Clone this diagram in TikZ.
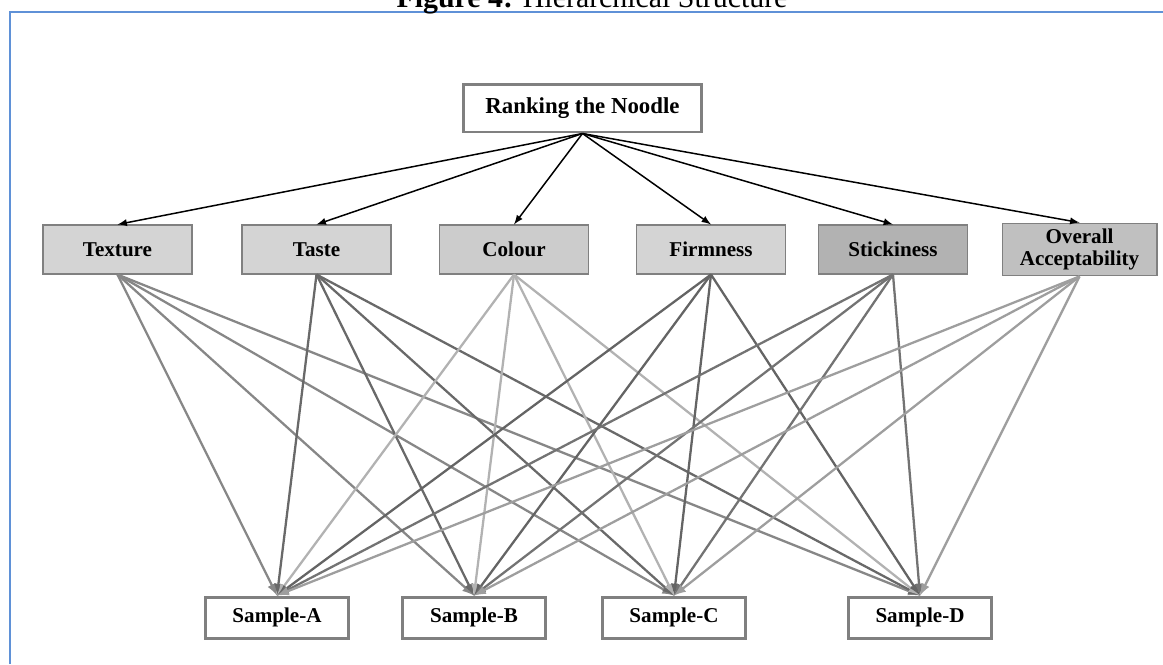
\documentclass[tikz,border=0pt]{standalone}
\usepackage{fontspec}
\setmainfont{Liberation Serif}
\usetikzlibrary{arrows.meta}

\definecolor{framec}{RGB}{95,145,215}
\definecolor{edgec}{RGB}{128,128,128}
\definecolor{fillA}{RGB}{212,212,212}
\definecolor{fillB}{RGB}{204,204,204}
\definecolor{fillC}{RGB}{178,178,178}
\definecolor{fillD}{RGB}{192,192,192}
\definecolor{lnTex}{RGB}{135,135,135}
\definecolor{lnTas}{RGB}{105,105,105}
\definecolor{lnCol}{RGB}{178,178,178}
\definecolor{lnFir}{RGB}{100,100,100}
\definecolor{lnSti}{RGB}{115,115,115}
\definecolor{lnOve}{RGB}{158,158,158}

\tikzset{
  goalbox/.style={draw=edgec, line width=1.7pt, fill=white, minimum width=4.78cm,
    minimum height=0.96cm, font=\bfseries\fontsize{13}{14}\selectfont},
  critbox/.style={draw=edgec, line width=0.6pt, minimum width=2.98cm,
    minimum height=0.98cm, align=center, font=\bfseries\fontsize{12}{12.5}\selectfont},
  altbox/.style={draw=edgec, line width=1.7pt, fill=white, minimum width=2.86cm,
    minimum height=0.82cm, font=\bfseries\fontsize{12}{13}\selectfont},
  toparrow/.style={-{latex}, line width=0.85pt, black},
  lowarrow/.style={-{latex}, line width=1.3pt}
}

\begin{document}
\begin{tikzpicture}[x=0.02cm, y=-0.02cm]
    \useasboundingbox (0,0) rectangle (1163,664);

    % page frame and caption
    \draw[framec, line width=1.2pt] (10,664) -- (10,12) -- (1170,12);
    \node (title) [anchor=base, font=\fontsize{17}{18}\selectfont] at (592,7)
        {\textbf{Figure 4:} Hierarchical Structure};

    % goal
    \node (rank) [goalbox] at (582.5,108) {Ranking the Noodle};

    % criteria
    \node (tex) [critbox, fill=fillA] at (117.5,249.5) {Texture};
    \node (tas) [critbox, fill=fillA] at (316.5,249.5) {Taste};
    \node (col) [critbox, fill=fillB] at (514,249.5) {Colour};
    \node (fir) [critbox, fill=fillA] at (711,249.5) {Firmness};
    \node (sti) [critbox, fill=fillC] at (893,249.5) {Stickiness};
    \node (ove) [critbox, fill=fillD, minimum width=3.1cm] at (1079.5,249.5) {Overall\\Acceptability};

    % alternatives
    \node (sa) [altbox] at (277,617.5) {Sample-A};
    \node (sb) [altbox] at (474,617.5) {Sample-B};
    \node (sc) [altbox] at (674,617.5) {Sample-C};
    \node (sd) [altbox] at (920,617.5) {Sample-D};

    % goal to criteria
    \draw[toparrow] (rank.south) to (tex.north);
    \draw[toparrow] (rank.south) to (tas.north);
    \draw[toparrow] (rank.south) to (col.north);
    \draw[toparrow] (rank.south) to (fir.north);
    \draw[toparrow] (rank.south) to (sti.north);
    \draw[toparrow] (rank.south) to (ove.north);

    % texture
    \draw[lowarrow, lnTex] (tex.south) to (sa.north);
    \draw[lowarrow, lnTex] (tex.south) to (sb.north);
    \draw[lowarrow, lnTex] (tex.south) to (sc.north);
    \draw[lowarrow, lnTex] (tex.south) to (sd.north);

    % taste
    \draw[lowarrow, lnTas] (tas.south) to (sa.north);
    \draw[lowarrow, lnTas] (tas.south) to (sb.north);
    \draw[lowarrow, lnTas] (tas.south) to (sc.north);
    \draw[lowarrow, lnTas] (tas.south) to (sd.north);

    % colour
    \draw[lowarrow, lnCol] (col.south) to (sa.north);
    \draw[lowarrow, lnCol] (col.south) to (sb.north);
    \draw[lowarrow, lnCol] (col.south) to (sc.north);
    \draw[lowarrow, lnCol] (col.south) to (sd.north);

    % firmness
    \draw[lowarrow, lnFir] (fir.south) to (sa.north);
    \draw[lowarrow, lnFir] (fir.south) to (sb.north);
    \draw[lowarrow, lnFir] (fir.south) to (sc.north);
    \draw[lowarrow, lnFir] (fir.south) to (sd.north);

    % stickiness
    \draw[lowarrow, lnSti] (sti.south) to (sa.north);
    \draw[lowarrow, lnSti] (sti.south) to (sb.north);
    \draw[lowarrow, lnSti] (sti.south) to (sc.north);
    \draw[lowarrow, lnSti] (sti.south) to (sd.north);

    % overall acceptability
    \draw[lowarrow, lnOve] (ove.south) to (sa.north);
    \draw[lowarrow, lnOve] (ove.south) to (sb.north);
    \draw[lowarrow, lnOve] (ove.south) to (sc.north);
    \draw[lowarrow, lnOve] (ove.south) to (sd.north);

\end{tikzpicture}
\end{document}
